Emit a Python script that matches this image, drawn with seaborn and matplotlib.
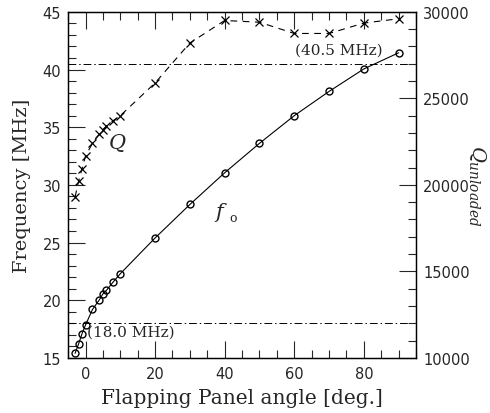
import numpy as np
import pandas as pd
import matplotlib
matplotlib.use("Agg")
import matplotlib.pyplot as plt
from matplotlib.ticker import MultipleLocator
import seaborn as sns

# ---- data ----
angle = [-3, -2, -1, 0, 2, 4, 5, 6, 8, 10, 20, 30, 40, 50, 60, 70, 80, 90]
freq = [15.4, 16.2, 17.1, 17.85, 19.2, 20.05, 20.55, 20.85, 21.6, 22.3,
        25.4, 28.3, 31.05, 33.6, 36.0, 38.1, 40.05, 41.45]
q_unloaded = [19300, 20200, 20930, 21660, 22410, 22950, 23200, 23400, 23720, 24000,
              25890, 28200, 29500, 29400, 28750, 28750, 29350, 29600]
f_low, f_high = 18.0, 40.5
low_label = "(18.0 MHz)"
high_label = "(40.5 MHz)"

sns.set_theme(style="ticks")
plt.rcParams["font.family"] = ["DejaVu Sans"]
plt.rcParams["mathtext.fontset"] = "dejavuserif"

df = pd.DataFrame({"angle": angle, "freq": freq, "Q": q_unloaded})

fig = plt.figure(figsize=(4.9, 4.14), dpi=100)
ax = fig.add_axes([0.139, 0.133, 0.710, 0.836])
ax2 = ax.twinx()

sns.lineplot(data=df, x="angle", y="freq", ax=ax, color="black", lw=0.8,
             marker="o", markersize=5, markerfacecolor="none",
             markeredgecolor="black", markeredgewidth=1.0)
sns.lineplot(data=df, x="angle", y="Q", ax=ax2, color="black", lw=0.8,
             linestyle=(0, (6, 5)), marker="x", markersize=6,
             markeredgecolor="black", markeredgewidth=0.9)

for v in (f_low, f_high):
    ax.axhline(v, color="black", lw=0.7, linestyle=(0, (8, 3, 1.5, 3)))

ax.set_xlim(-5, 95)
ax.set_ylim(15, 45)
ax2.set_ylim(10000, 30000)

serif = ["DejaVu Serif"]
ax.text(0.3, 17.25, low_label, family=serif, fontsize=11, ha="left", va="center")
ax.text(85.3, 41.7, high_label, family=serif, fontsize=11, ha="right", va="center")
ax.text(9, 33.7, "$Q$", fontsize=15, ha="center", va="center")
ax.text(39, 27.7, "$f$", fontsize=15, ha="center", va="center")
ax.text(42.5, 27.2, "o", family=serif, fontsize=9, ha="center", va="center")

ax.set_xlabel("Flapping Panel angle [deg.]", family=serif, fontsize=14.5, labelpad=5)
ax.set_ylabel("Frequency [MHz]", family=serif, fontsize=14, labelpad=8)
ax2.set_ylabel(r"$Q_{\mathbf{\mathit{unloaded}}}$", fontsize=14, rotation=270, labelpad=13)

ax.xaxis.set_major_locator(MultipleLocator(20))
ax.xaxis.set_minor_locator(MultipleLocator(5))
ax.yaxis.set_major_locator(MultipleLocator(5))
ax.yaxis.set_minor_locator(MultipleLocator(1))
ax2.yaxis.set_major_locator(MultipleLocator(5000))
ax2.yaxis.set_minor_locator(MultipleLocator(1000))

ax.tick_params(axis="x", which="both", direction="in", top=True, bottom=True,
               labelsize=10.5, pad=6, width=0.8)
ax.tick_params(axis="y", which="both", direction="in", left=True, right=False,
               labelsize=10.5, pad=5, width=0.8)
ax2.tick_params(axis="y", which="both", direction="in", right=True, left=False,
                labelsize=10.5, pad=5, width=0.8)
for a in (ax, ax2):
    a.tick_params(which="major", length=12)
    a.tick_params(which="minor", length=6)
    for s in a.spines.values():
        s.set_visible(True)
        s.set_linewidth(0.9)
        s.set_color("black")
ax.set_facecolor("white")

fig.savefig("out.png", dpi=100, facecolor="white")
